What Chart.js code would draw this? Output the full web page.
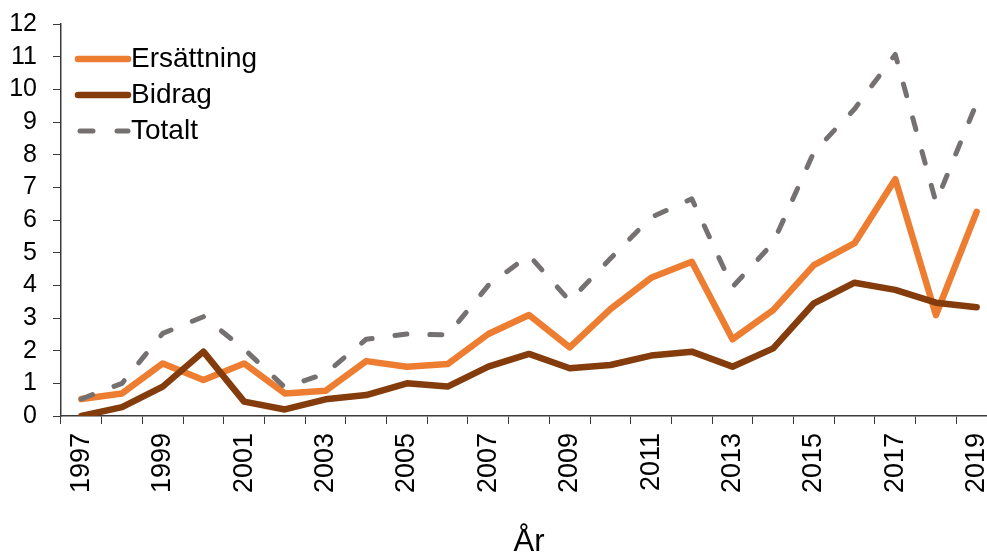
<!DOCTYPE html>
<html>
<head>
<meta charset="utf-8">
<script src="https://cdn.jsdelivr.net/npm/chart.js@4.4.1/dist/chart.umd.min.js"></script>
<style>
  html, body { margin: 0; padding: 0; background: #fff; overflow: hidden; }
  #wrap { position: relative; width: 1000px; height: 552px; }
</style>
</head>
<body>
<div id="wrap"><canvas id="c"></canvas></div>
<script>
const years = ['1997','1998','1999','2000','2001','2002','2003','2004','2005','2006','2007','2008','2009','2010','2011','2012','2013','2014','2015','2016','2017','2018','2019'];
const ersattning = [0.52,0.69,1.61,1.10,1.61,0.69,0.77,1.68,1.51,1.59,2.51,3.09,2.10,3.27,4.23,4.72,2.35,3.24,4.62,5.29,7.25,3.09,6.25];
const bidrag = [0.00,0.27,0.90,1.97,0.44,0.20,0.51,0.64,1.00,0.90,1.51,1.90,1.46,1.56,1.85,1.97,1.51,2.07,3.45,4.08,3.86,3.47,3.33];
const totalt = [0.52,1.00,2.53,3.04,2.05,0.88,1.30,2.35,2.51,2.48,4.00,4.92,3.52,4.82,6.08,6.65,3.95,5.30,8.08,9.40,11.07,6.54,9.58];
const seriesNames = ['Ersättning','Bidrag','Totalt'];
const axisTitle = 'År';

const FONT = "'Liberation Sans', Arial, sans-serif";
const AXIS = '#3a3a3a';

const legendInside = {
  id: 'legendInside',
  afterDatasetsDraw(chart) {
    const ctx = chart.ctx;
    const a = chart.chartArea;
    const x0 = a.left + 17, x1 = a.left + 67, tx = a.left + 70;
    const rows = [a.top + 35, a.top + 71, a.top + 107];
    ctx.save();
    chart.data.datasets.forEach((ds, i) => {
      const y = rows[i];
      ctx.beginPath();
      ctx.strokeStyle = ds.borderColor;
      ctx.lineWidth = ds.borderWidth;
      ctx.lineCap = 'round';
      ctx.setLineDash(ds.borderDash ? [13, 24] : []);
      ctx.moveTo(ds.borderDash ? x0 + 2 : x0, y);
      ctx.lineTo(x1, y);
      ctx.stroke();
      ctx.setLineDash([]);
      ctx.fillStyle = '#000';
      ctx.font = '28px ' + FONT;
      ctx.textBaseline = 'middle';
      ctx.textAlign = 'left';
      ctx.fillText(ds.label, tx, y);
    });
    ctx.restore();
  }
};

new Chart(document.getElementById('c'), {
  type: 'line',
  data: {
    labels: years,
    datasets: [
      { label: seriesNames[0], data: ersattning, borderColor: '#ED7D31', backgroundColor: '#ED7D31', borderWidth: 6.5, pointRadius: 0, tension: 0, borderJoinStyle: 'round', borderCapStyle: 'round', order: 2 },
      { label: seriesNames[1], data: bidrag, borderColor: '#843C0C', backgroundColor: '#843C0C', borderWidth: 6.5, pointRadius: 0, tension: 0, borderJoinStyle: 'round', borderCapStyle: 'round', order: 1 },
      { label: seriesNames[2], data: totalt, borderColor: '#767171', backgroundColor: '#767171', borderWidth: 5, borderDash: [12, 23], pointRadius: 0, tension: 0, borderJoinStyle: 'round', borderCapStyle: 'round', order: 0 }
    ]
  },
  options: {
    responsive: true,
    maintainAspectRatio: false,
    animation: false,
    layout: { padding: { left: 0, top: 24, right: 3, bottom: 0 } },
    plugins: { legend: { display: false }, tooltip: { enabled: false } },
    scales: {
      x: {
        type: 'category',
        offset: true,
        afterFit(scale) { scale.paddingLeft = 0; scale.paddingRight = 0; scale.height = 136; },
        grid: { offset: true, drawOnChartArea: false, drawTicks: true, tickLength: 8, color: AXIS, lineWidth: 1 },
        border: { display: true, color: AXIS, width: 1.5 },
        ticks: {
          autoSkip: false, minRotation: 90, maxRotation: 90, padding: 9,
          color: '#000', font: { family: FONT, size: 27 },
          callback: function(v, i) { return i % 2 === 0 ? this.getLabelForValue(v) : ''; }
        },
        title: { display: true, text: axisTitle, color: '#000', font: { family: FONT, size: 31 }, padding: { top: 0, bottom: -9 } }
      },
      y: {
        min: 0, max: 12,
        afterFit(scale) { scale.width = 61; scale.paddingTop = 0; scale.paddingBottom = 0; },
        grid: { drawOnChartArea: false, drawTicks: true, tickLength: 8, color: AXIS, lineWidth: 1 },
        border: { display: true, color: AXIS, width: 1.5 },
        ticks: { stepSize: 1, autoSkip: false, padding: 16, color: '#000', font: { family: FONT, size: 25 } }
      }
    }
  },
  plugins: [legendInside]
});
</script>
</body>
</html>
